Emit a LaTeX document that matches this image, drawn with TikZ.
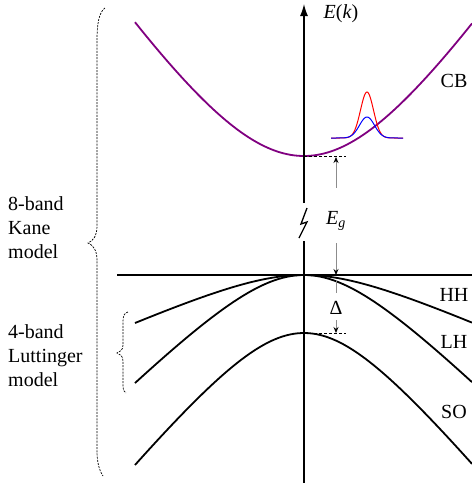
\documentclass[tikz,border=0pt]{standalone}
\usepackage{fontspec}
\setmainfont{Liberation Serif}
\usetikzlibrary{arrows.meta}
\definecolor{cbband}{RGB}{128,0,128}
\definecolor{gapgray}{gray}{0.55}
\definecolor{pkred}{RGB}{255,0,0}
\definecolor{pkblue}{RGB}{0,0,255}
\tikzset{px/.style={x=1pt,y=-1pt,font=\fontsize{20}{24}\selectfont},
  band/.style={line width=1.8pt},
  axis/.style={line width=1.3pt},
  gapline/.style={gapgray,line width=0.9pt},
  gaptip/.style={-{Stealth[length=6pt,width=5pt,black]}},
  edgedash/.style={line width=0.7pt,dash pattern=on 3pt off 2pt},
  brc/.style={line width=0.7pt,dash pattern=on 2pt off 1.2pt},
  lbl/.style={inner sep=0pt}}

\begin{document}
\begin{tikzpicture}[px]
  \useasboundingbox (0,0) rectangle (472,483);
  \coordinate (hl0) at (117,275);\coordinate (hl1) at (472,275);
  \draw[line width=1.1pt] (hl0)--(hl1);
  % bands
  \draw[band,cbband] plot[domain=-169:168,samples=90] ({304+\x},{156-184*(sqrt(1+(\x/120)^2)-1)});
  \draw[band] plot[domain=-169:168,samples=90] ({304+\x},{275+35.9*(sqrt(1+(\x/80)^2)-1)});
  \draw[band] plot[domain=-169:168,samples=90] ({304+\x},{275+80.8*(sqrt(1+(\x/80)^2)-1)});
  \draw[band] plot[domain=-169:168,samples=90] ({304+\x},{333+98.7*(sqrt(1+(\x/80)^2)-1)});
  % wave packet
  \draw[pkred,line width=1pt] plot[domain=331:403,samples=70] (\x,{138-46*exp(-0.5*((\x-367)/6.5)^2)});
  \draw[pkblue,line width=1pt] plot[domain=331:403,samples=70] (\x,{138-21*exp(-0.5*((\x-367)/7.5)^2)});
  % axis with break
  \coordinate (ax0) at (304,483);\coordinate (ax1) at (304,241);
  \coordinate (ax2) at (304,203);\coordinate (ax3) at (304,4);
  \draw[axis] (ax0)--(ax1);
  \draw[axis] (307,208)--(301,224)--(307,222)--(299,238);
  \draw[axis,-{Latex[length=12pt,width=8pt]}] (ax2)--(ax3);
  \node[lbl] (Ek) at (341,14) {\textit{E}(\textit{k})};
  % gaps
  \coordinate (cbmin) at (304,156);\coordinate (cbdash) at (346,156);
  \coordinate (cbtop) at (336,157);\coordinate (vbtop) at (336,275);
  \coordinate (somax) at (304,333);\coordinate (sodash) at (346,333);
  \coordinate (sotop) at (336,333);
  \draw[edgedash] (cbmin)--(cbdash);
  \draw[edgedash] (somax)--(sodash);
  \node[lbl,anchor=base,text height=36pt,text depth=19pt] (Eg) at (336,224) {\textit{E}\textsubscript{\textit{g}}};
  \node[lbl,anchor=base,text height=21pt,text depth=6pt] (D) at (336,314) {Δ};
  \draw[gapline,gaptip] (Eg)--(cbtop);
  \draw[gapline,gaptip] (Eg)--(vbtop);
  \draw[gapline,shorten >=5pt] (D)--(vbtop);
  \draw[gapline,gaptip] (D)--(sotop);
  % band names
  \node[lbl] (cb) at (454,81) {CB};
  \node[lbl] (hh) at (454,295) {HH};
  \node[lbl] (lh) at (454,342) {LH};
  \node[lbl] (so) at (454,412) {SO};
  % models
  \node[lbl,align=left,anchor=north west] (kane) at (8,196.3) {8-band\\Kane\\model};
  \node[lbl,align=left,anchor=north west] (lutt) at (8,324.3) {4-band\\Luttinger\\model};
  \draw[brc] (105,8) .. controls (99,12) and (97,24) .. (97,40) -- (97,226)
    .. controls (97,236) and (93,241) .. (88,243) .. controls (93,245) and (97,250) .. (97,260)
    -- (97,450) .. controls (97,462) and (99,470) .. (103,476);
  \draw[brc] (128,312) .. controls (124,313) and (123,316) .. (123,322) -- (123,345)
    .. controls (123,350) and (120,352) .. (117,353) .. controls (120,354) and (123,356) .. (123,361)
    -- (123,385) .. controls (123,390) and (124,392) .. (126,393);
\end{tikzpicture}
\end{document}
